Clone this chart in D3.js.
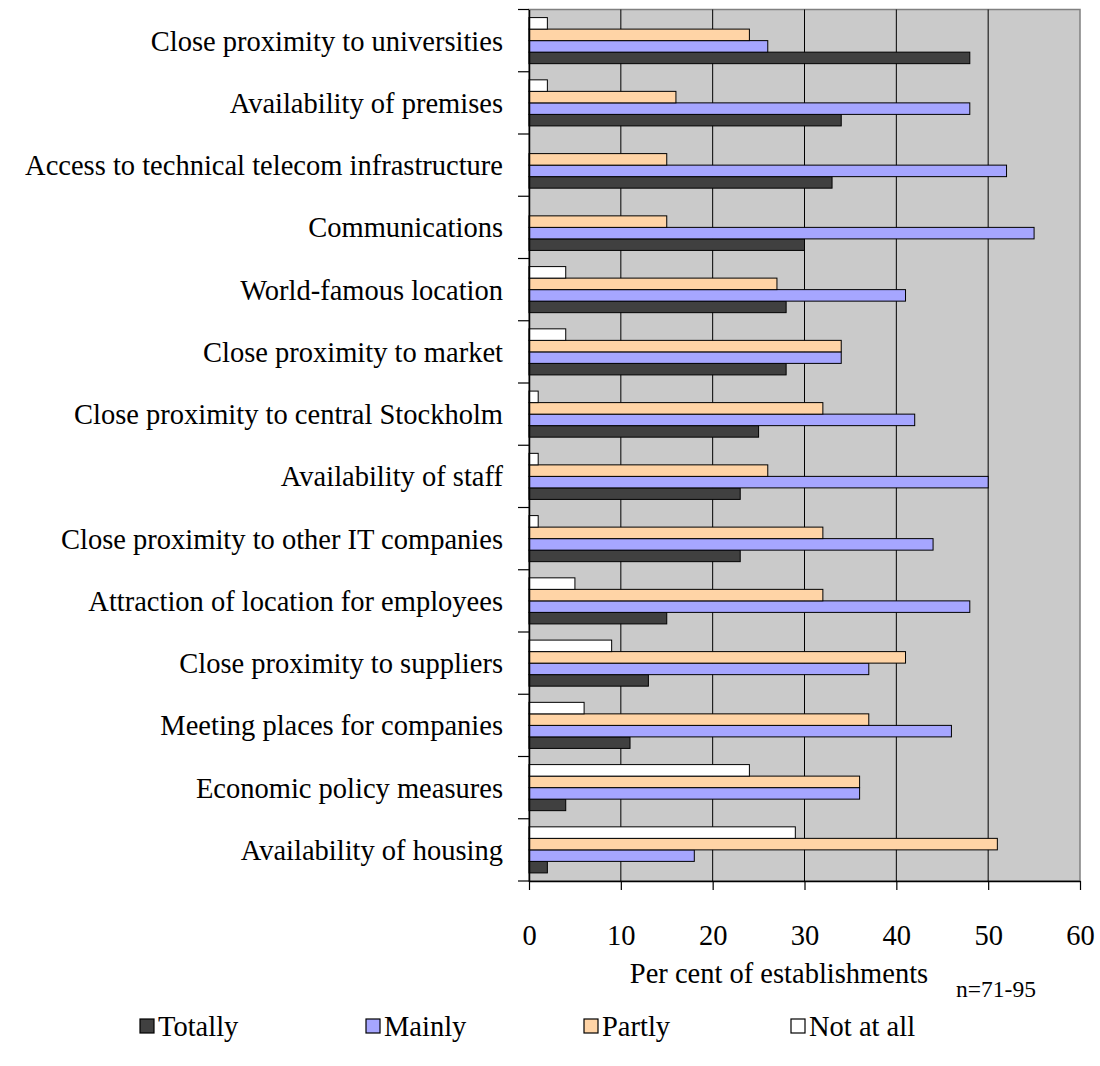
<!DOCTYPE html>
<html>
<head>
<meta charset="utf-8">
<script src="https://cdn.jsdelivr.net/npm/d3@7"></script>
<style>
  body { margin: 0; background: #fff; }
  text { font-family: 'Liberation Serif', 'Times New Roman', serif; fill: #000; }
</style>
</head>
<body>
<svg id="chart" width="1100" height="1066"></svg>
<script>
// data
const categories = [
  'Close proximity to universities',
  'Availability of premises',
  'Access to technical telecom infrastructure',
  'Communications',
  'World-famous location',
  'Close proximity to market',
  'Close proximity to central Stockholm',
  'Availability of staff',
  'Close proximity to other IT companies',
  'Attraction of location for employees',
  'Close proximity to suppliers',
  'Meeting places for companies',
  'Economic policy measures ',
  'Availability of housing'
];
const seriesNames = ['Totally', 'Mainly', 'Partly', 'Not at all'];
const totally = [48, 34, 33, 30, 28, 28, 25, 23, 23, 15, 13, 11, 4, 2];
const mainly = [26, 48, 52, 55, 41, 34, 42, 50, 44, 48, 37, 46, 36, 18];
const partly = [24, 16, 15, 15, 27, 34, 32, 26, 32, 32, 41, 37, 36, 51];
const notAtAll = [2, 2, 0, 0, 4, 4, 1, 1, 1, 5, 9, 6, 24, 29];
const xTicks = [0, 10, 20, 30, 40, 50, 60];

const colors = {
  'Totally': '#404040',
  'Mainly': '#a6a6ff',
  'Partly': '#ffd4a6',
  'Not at all': '#ffffff'
};

let svg = d3.select('#chart');
let plot = { left: 529, right: 1080, top: 9.5, bottom: 881 };
let fontSize = 28.5;

let xScale = d3.scaleLinear().domain([0, 60]).range([plot.left, plot.right]);
let yScale = d3.scaleBand()
  .domain(categories)
  .range([plot.top, plot.bottom])
  .paddingInner(0.26)
  .paddingOuter(0.13);

// bars inside a band: not at all on top, totally at bottom
let inner = d3.scaleBand()
  .domain(['Not at all', 'Partly', 'Mainly', 'Totally'])
  .range([0, yScale.bandwidth()]);

let values = { 'Totally': totally, 'Mainly': mainly, 'Partly': partly, 'Not at all': notAtAll };

// background
svg.append('rect')
  .attr('x', plot.left).attr('y', plot.top)
  .attr('width', plot.right - plot.left).attr('height', plot.bottom - plot.top)
  .attr('fill', '#cacaca')
  .attr('stroke', '#808080')
  .attr('stroke-width', 1.5);

// gridlines
svg.append('g')
  .selectAll('line')
  .data(xTicks.slice(1, -1))
  .enter()
  .append('line')
  .attr('x1', d => xScale(d)).attr('x2', d => xScale(d))
  .attr('y1', plot.top).attr('y2', plot.bottom)
  .attr('stroke', '#000')
  .attr('stroke-width', 1);

// bars
let rows = categories.map((c, i) => ({ cat: c, i: i }));
seriesNames.forEach(name => {
  svg.append('g')
    .selectAll('rect')
    .data(rows.filter(r => values[name][r.i] > 0))
    .enter()
    .append('rect')
    .attr('x', xScale(0))
    .attr('y', r => yScale(r.cat) + inner(name))
    .attr('width', r => xScale(values[name][r.i]) - xScale(0))
    .attr('height', inner.bandwidth())
    .attr('fill', colors[name])
    .attr('stroke', '#000')
    .attr('stroke-width', 1);
});

// y axis
let yAxisScale = d3.scaleBand().domain(categories).range([plot.top, plot.bottom]);
let yAxis = svg.append('g')
  .attr('transform', `translate(${plot.left},0)`)
  .call(d3.axisLeft(yAxisScale).tickSize(0).tickPadding(26));
yAxis.select('.domain').attr('stroke', '#000').attr('stroke-width', 1.5);
yAxis.selectAll('text').attr('font-size', fontSize).attr('dy', '0.35em');

// category separator ticks
svg.append('g')
  .selectAll('line')
  .data(categories.concat(['end']))
  .enter()
  .append('line')
  .attr('x1', plot.left - 11).attr('x2', plot.left)
  .attr('y1', (d, i) => plot.top + i * yAxisScale.step())
  .attr('y2', (d, i) => plot.top + i * yAxisScale.step())
  .attr('stroke', '#000')
  .attr('stroke-width', 1.2);

// x axis
let xAxis = svg.append('g')
  .attr('transform', `translate(0,${plot.bottom})`)
  .call(d3.axisBottom(xScale).tickValues(xTicks).tickSize(9).tickPadding(55).tickSizeOuter(0));
xAxis.select('.domain').attr('stroke', '#000').attr('stroke-width', 1.5);
xAxis.selectAll('line').attr('stroke', '#000').attr('stroke-width', 1.2);
xAxis.selectAll('text').attr('font-size', fontSize).attr('dy', '0');

// axis title
svg.append('text')
  .attr('x', 779).attr('y', 983)
  .attr('text-anchor', 'middle')
  .attr('font-size', fontSize)
  .text('Per cent of establishments');

svg.append('text')
  .attr('x', 996).attr('y', 997)
  .attr('text-anchor', 'middle')
  .attr('font-size', 23.5)
  .text('n=71-95');

// legend
let legendX = [140, 366, 584, 791];
let legend = svg.append('g')
  .selectAll('g')
  .data(seriesNames)
  .enter()
  .append('g')
  .attr('transform', (d, i) => `translate(${legendX[i]},1019)`);

legend.append('rect')
  .attr('width', 14).attr('height', 14)
  .attr('fill', d => colors[d])
  .attr('stroke', '#000')
  .attr('stroke-width', 1.2);

legend.append('text')
  .attr('x', 18).attr('y', 17)
  .attr('font-size', fontSize)
  .text(d => d);
</script>
</body>
</html>
